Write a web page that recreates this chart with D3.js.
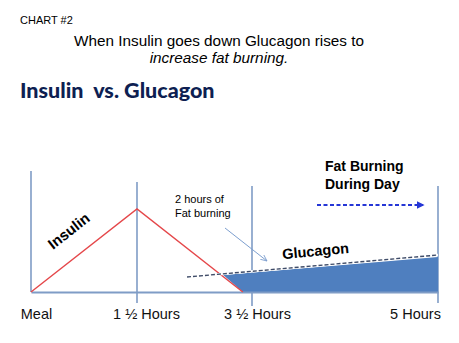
<!DOCTYPE html>
<html><head><meta charset="utf-8">
<script src="https://cdn.jsdelivr.net/npm/d3@7"></script>
<style>body{margin:0;background:#fff}svg{display:block}</style>
</head><body>
<script>
// ---- data ----
const categories = ["Meal", "1 \u00BD Hours", "3 \u00BD Hours", "5 Hours"];
const hours = [0, 1.5, 3.5, 5];
const insulinHours = [0, 1.5, 3.34];
const insulinValues = [0, 83, 0];
const glucagonHours = [2.37, 5];
const glucagonValues = [15, 37];
const fatBurnHours = [3.0, 5, 5, 3.34];
const fatBurnValues = [17, 35, 0, 0];

const W = 459, H = 343;
const svg = d3.select("body").append("svg").attr("width", W).attr("height", H);
const x = d3.scaleLinear().domain(hours).range([31, 137, 252, 438]);
const y = d3.scaleLinear().domain([0, 100]).range([292, 192]);

const defs = svg.append("defs");
defs.append("marker").attr("id","blueHead").attr("viewBox","0 0 10 10").attr("refX",8).attr("refY",5)
  .attr("markerWidth",4).attr("markerHeight",4).attr("orient","auto")
  .append("path").attr("d","M0,0L10,5L0,10z").attr("fill","#2536d6");
defs.append("marker").attr("id","openHead").attr("viewBox","0 0 10 10").attr("refX",9).attr("refY",5)
  .attr("markerWidth",7).attr("markerHeight",7).attr("orient","auto").attr("markerUnits","userSpaceOnUse")
  .append("path").attr("d","M0,1L9,5L0,9").attr("fill","none").attr("stroke","#7d9fcf").attr("stroke-width",1.2);

// titles
svg.append("text").attr("x",20).attr("y",24).attr("font-family","Arial, Liberation Sans").attr("font-size",11).text("CHART #2");
svg.append("text").attr("x",219).attr("y",46).attr("text-anchor","middle").attr("font-family","Arial, Liberation Sans")
  .attr("font-size",15.3).text("When Insulin goes down Glucagon rises to");
svg.append("text").attr("x",219).attr("y",63).attr("text-anchor","middle").attr("font-family","Arial, Liberation Sans")
  .attr("font-size",15.3).attr("font-style","italic").text("increase fat burning.");
svg.append("text").attr("x",20).attr("y",98).attr("font-family","Lato, 'Open Sans'").attr("font-weight",900)
  .attr("font-size",21.5).attr("fill","#0e1f52").attr("xml:space","preserve").text("Insulin  vs. Glucagon");

// vertical grid lines
const gridTop = [171, 182, 186, 186];
const gridBottom = [292, 303, 306, 303];
svg.append("g").selectAll("line").data(hours).join("line")
  .attr("x1", d => x(d)).attr("x2", d => x(d))
  .attr("y1", (d,i) => gridTop[i]).attr("y2", (d,i) => gridBottom[i])
  .attr("stroke","#7f9cc6").attr("stroke-width",1.6);

// fat burning area
const fatPts = fatBurnHours.map((h,i) => [x(h), y(fatBurnValues[i])]);
svg.append("path").attr("d", d3.line()(fatPts) + "Z").attr("fill","#4f7fbf");

// baseline axis
const axis = d3.axisBottom(x).tickValues(hours).tickFormat((d,i) => categories[i]).tickSize(0).tickPadding(17);
const ag = svg.append("g").attr("transform", `translate(0,${y(0)})`).call(axis);
ag.select(".domain").attr("stroke","#7f9cc6").attr("stroke-width",2);
const labelShift = [5, 9, 5, -23];
ag.selectAll(".tick text").attr("font-family","Arial, Liberation Sans").attr("font-size",14.5)
  .attr("fill","#111").attr("dx",(d,i) => labelShift[i]);

// insulin line
const insPts = insulinHours.map((h,i) => [x(h), y(insulinValues[i])]);
svg.append("path").attr("d", d3.line()(insPts)).attr("fill","none").attr("stroke","#e5474a").attr("stroke-width",1.4);

// glucagon dashed line
const gluPts = glucagonHours.map((h,i) => [x(h), y(glucagonValues[i])]);
svg.append("path").attr("d", d3.line()(gluPts)).attr("fill","none").attr("stroke","#fff").attr("stroke-width",2.6);
svg.append("path").attr("d", d3.line()(gluPts)).attr("fill","none").attr("stroke","#3f4c68")
  .attr("stroke-width",1.4).attr("stroke-dasharray","4,2");

// labels
svg.append("text").attr("transform","translate(72,235) rotate(-38)").attr("text-anchor","middle")
  .attr("font-family","Arial, Liberation Sans").attr("font-weight","bold").attr("font-size",15).text("Insulin");
svg.append("text").attr("transform","translate(316,256) rotate(-5.5)").attr("text-anchor","middle")
  .attr("font-family","Arial, Liberation Sans").attr("font-weight","bold").attr("font-size",14.5).text("Glucagon");

// annotation
svg.append("text").attr("x",175).attr("y",203).attr("font-family","Arial, Liberation Sans").attr("font-size",11).text("2 hours of");
svg.append("text").attr("x",175).attr("y",217).attr("font-family","Arial, Liberation Sans").attr("font-size",11).text("Fat burning");
svg.append("line").attr("x1",225).attr("y1",228).attr("x2",267).attr("y2",261)
  .attr("stroke","#7d9fcf").attr("stroke-width",1).attr("marker-end","url(#openHead)");

// fat burning during day
svg.append("text").attr("x",325).attr("y",171).attr("font-family","Arial, Liberation Sans").attr("font-weight","bold").attr("font-size",14).text("Fat Burning");
svg.append("text").attr("x",325).attr("y",189).attr("font-family","Arial, Liberation Sans").attr("font-weight","bold").attr("font-size",14).text("During Day");
svg.append("line").attr("x1",317).attr("y1",205).attr("x2",423).attr("y2",205)
  .attr("stroke","#2536d6").attr("stroke-width",2).attr("stroke-dasharray","4,2.5").attr("marker-end","url(#blueHead)");
</script>
</body></html>
